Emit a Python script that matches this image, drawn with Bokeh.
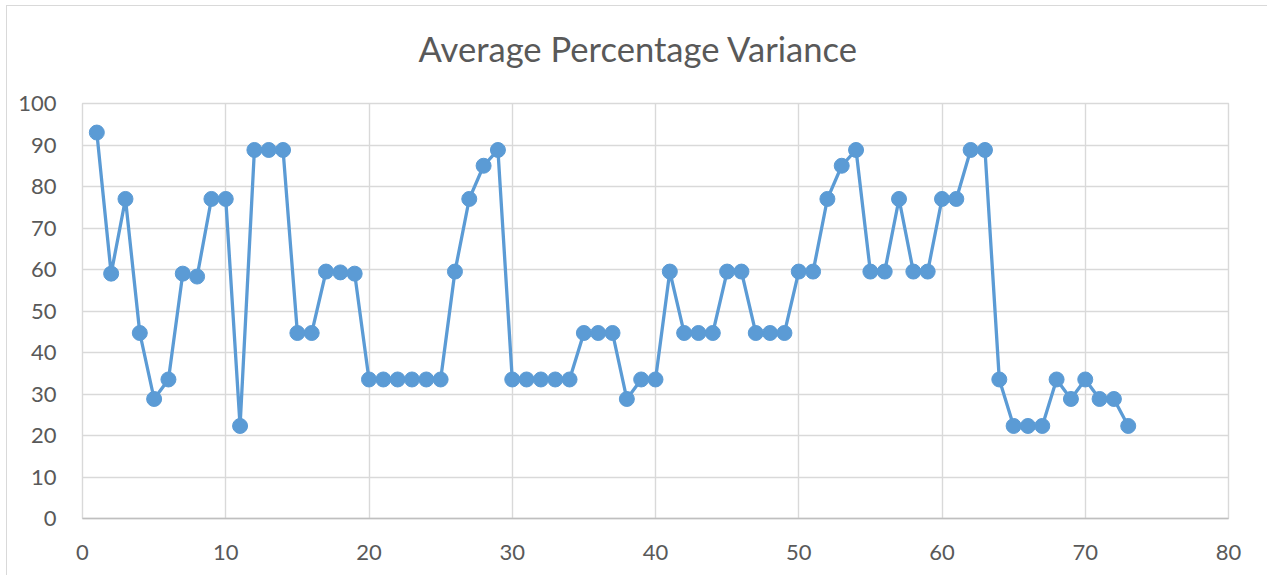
from bokeh.plotting import figure
from bokeh.models import Range1d, FixedTicker, Title
from bokeh.embed import file_html
from bokeh.resources import INLINE

# ---- data ----
x_values = list(range(1, 74))
variance = [
    93.0, 59.0, 77.0, 44.7, 28.8, 33.5, 59.0, 58.3, 77.0, 77.0,
    22.3, 88.8, 88.8, 88.8, 44.7, 44.7, 59.5, 59.3, 59.0, 33.5,
    33.5, 33.5, 33.5, 33.5, 33.5, 59.5, 77.0, 85.0, 88.8, 33.5,
    33.5, 33.5, 33.5, 33.5, 44.7, 44.7, 44.7, 28.8, 33.5, 33.5,
    59.5, 44.7, 44.7, 44.7, 59.5, 59.5, 44.7, 44.7, 44.7, 59.5,
    59.5, 77.0, 85.0, 88.8, 59.5, 59.5, 77.0, 59.5, 59.5, 77.0,
    77.0, 88.8, 88.8, 33.5, 22.3, 22.3, 22.3, 33.5, 28.8, 33.5,
    28.8, 28.8, 22.3,
]
x_ticks = [0, 10, 20, 30, 40, 50, 60, 70, 80]
y_ticks = [0, 10, 20, 30, 40, 50, 60, 70, 80, 90, 100]
title_text = "Average Percentage Variance"

LINE = "#5b9bd5"
GRID = "#d9d9d9"
TEXT = "#595959"
FONT = "Lato"

p = figure(
    width=1261, height=570,
    x_range=Range1d(x_ticks[0], x_ticks[-1]),
    y_range=Range1d(y_ticks[0], y_ticks[-1]),
    output_backend="svg", toolbar_location=None,
    min_border_left=75, min_border_right=40,
    min_border_top=97, min_border_bottom=58,
    title=title_text,
)
p.styles = {"margin-left": "6px", "margin-top": "5px",
            "border-left": "1px solid #d9d9d9", "border-top": "1px solid #d9d9d9"}
p.outline_line_color = GRID
p.outline_line_width = 1.4

# spacer between the title and the plot frame
p.add_layout(Title(text=" ", text_font_size="1px", standoff=32), "above")

p.title.align = "left"
p.title.offset = 336
p.title.text_font = FONT
p.title.text_font_size = "34.6px"
p.title.text_font_style = "normal"
p.title.text_color = TEXT
p.title.standoff = 0

p.line(x_values, variance, line_color=LINE, line_width=3.3)
p.scatter(x_values, variance, size=15, fill_color=LINE, line_color=LINE)

for ax, ticks in ((p.xaxis[0], x_ticks), (p.yaxis[0], y_ticks)):
    ax.ticker = FixedTicker(ticks=ticks)
    ax.major_tick_line_color = None
    ax.minor_tick_line_color = None
    ax.major_label_text_font = FONT
    ax.major_label_text_font_size = "22px"
    ax.major_label_text_color = TEXT
    ax.major_label_standoff = 20

p.yaxis.axis_line_color = None
p.xaxis.axis_line_color = "#bfbfbf"
p.xaxis.axis_line_width = 1.4

p.xgrid.ticker = FixedTicker(ticks=x_ticks)
p.ygrid.ticker = FixedTicker(ticks=y_ticks)
for g in (p.xgrid[0], p.ygrid[0]):
    g.grid_line_color = GRID
    g.grid_line_width = 1.4

open("out.html", "w").write(file_html(p, INLINE))
